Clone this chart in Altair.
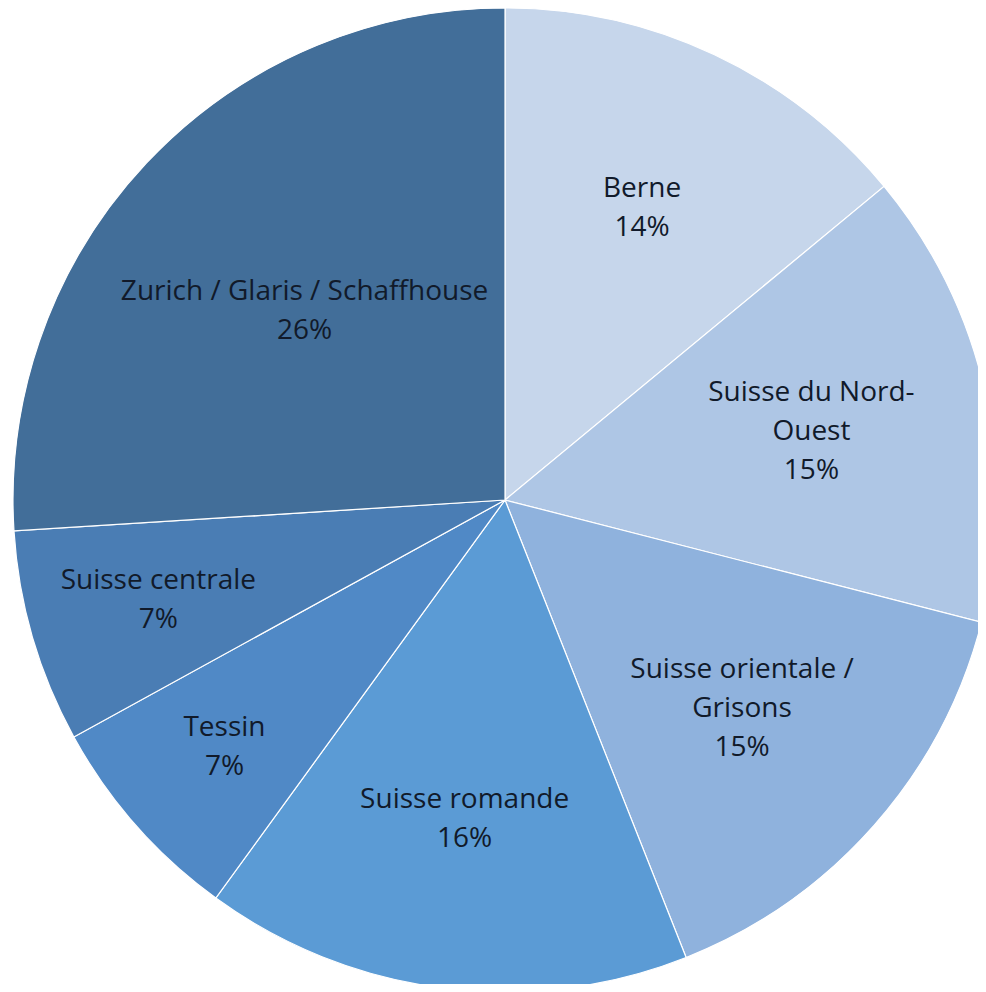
import altair as alt
import pandas as pd
import math

regions = ["Berne", "Suisse du Nord-Ouest", "Suisse orientale / Grisons", "Suisse romande",
           "Tessin", "Suisse centrale", "Zurich / Glaris / Schaffhouse"]
label_lines = [["Berne", "14%"], ["Suisse du Nord-", "Ouest", "15%"], ["Suisse orientale /", "Grisons", "15%"],
               ["Suisse romande", "16%"], ["Tessin", "7%"], ["Suisse centrale", "7%"],
               ["Zurich / Glaris / Schaffhouse", "26%"]]
shares = [14, 15, 15, 16, 7, 7, 26]
colors = ["#c6d6eb", "#aec6e5", "#8fb2dd", "#5b9bd5", "#5089c6", "#4a7db4", "#426e99"]
label_radius = [322, 314, 316, 322, 374, 361, 275]

LINE_H = 39

df = pd.DataFrame({
    "region": regions,
    "share": shares,
    "order": list(range(len(regions))),
    "label": label_lines,
    "lr": label_radius,
})

pie = alt.Chart(df).mark_arc(outerRadius=492, stroke="#ffffff", strokeWidth=1.2).encode(
    theta=alt.Theta("share:Q", stack=True, scale=alt.Scale(domain=[0, 100], range=[0, 2 * math.pi])),
    order=alt.Order("order:Q"),
    color=alt.Color("region:N", scale=alt.Scale(domain=regions, range=colors), legend=None),
    x=alt.value(497),
    y=alt.value(492),
)

text = alt.Chart(df).transform_window(
    cum="sum(share)", sort=[alt.SortField("order")], frame=[None, 0]
).transform_calculate(
    mid="datum.cum - datum.share / 2",
    shift=f"-(length(datum.label) - 1) * {LINE_H} / 2",
).mark_text(font="Open Sans", fontSize=28, color="#111a2a", lineHeight=LINE_H,
            align="center", baseline="middle").encode(
    theta=alt.Theta("mid:Q", scale=alt.Scale(domain=[0, 100], range=[0, 2 * math.pi])),
    radius=alt.Radius("lr:Q", scale=None),
    yOffset=alt.YOffset("shift:Q", scale=None),
    text="label",
    x=alt.value(497),
    y=alt.value(492),
)

chart = (pie + text).resolve_scale(theta="independent").properties(
    width=970, height=976, padding=0).configure_view(stroke=None)
chart = chart.properties(autosize=alt.AutoSizeParams(type="none"))
chart.save("out.html", embed_options={"renderer": "svg", "actions": False})
